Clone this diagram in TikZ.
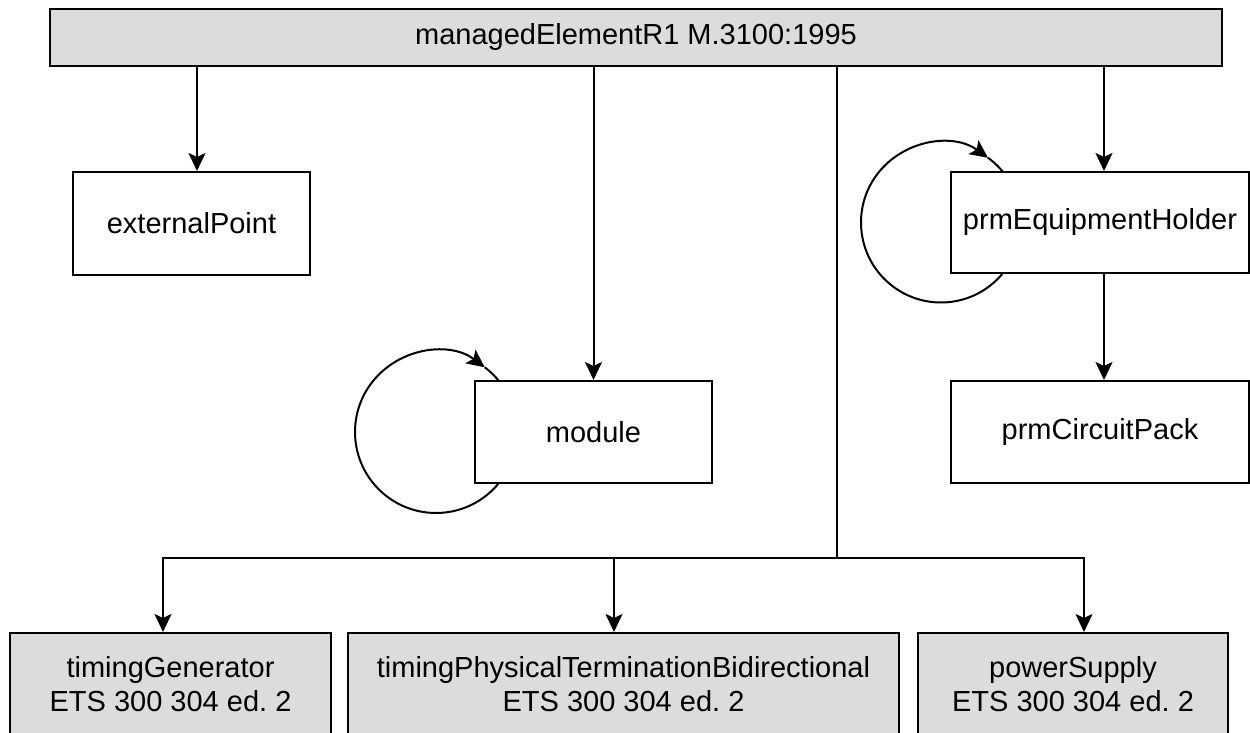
\documentclass[tikz,border=0pt]{standalone}
\usepackage{fontspec}
\setmainfont{Liberation Sans}
\usetikzlibrary{arrows.meta}
\usetikzlibrary{backgrounds}
\usetikzlibrary{calc}
\definecolor{boxgray}{RGB}{220,220,220}
\frenchspacing
\begin{document}
\begin{tikzpicture}[x=0.5pt, y=-0.5pt, line width=1pt, >={Stealth[length=9pt,width=8.5pt,inset=2pt]}]

		\tikzstyle{box}  = [draw, fill=white, align=center, inner sep=0pt, font=\fontsize{14.5}{17}\selectfont]
		\tikzstyle{gbox} = [box, fill=boxgray]
		\tikzstyle{loop} = [draw, line width=1pt]
		\useasboundingbox (0,0) rectangle (1250,733);

		\node [gbox, minimum width=586pt, minimum height=28.5pt](top) at (636, 37.5) {managedElementR1 M.3100:1995};
		\node [box, minimum width=118.5pt, minimum height=51.5pt](ext) at (191.5, 223.5) {externalPoint};
		\node [box, minimum width=118.5pt, minimum height=51pt](module) at (593.5, 432) {module};
		\node [box, minimum width=149pt, minimum height=50.5pt](holder) at (1100, 222.5) {prmEquipmentHolder};
		\node [box, minimum width=149pt, minimum height=51pt](pack) at (1100, 432) {prmCircuitPack};
		\node [gbox, minimum width=160.5pt, minimum height=51pt](tgen) at (170.5, 684) {timingGenerator\\ETS 300 304 ed. 2};
		\node [gbox, minimum width=275.5pt, minimum height=51pt](tptb) at (623.5, 684) {timingPhysicalTerminationBidirectional\\ETS 300 304 ed. 2};
		\node [gbox, minimum width=155pt, minimum height=51pt](psup) at (1073, 684) {powerSupply\\ETS 300 304 ed. 2};

		%%Containment arrows from the managed element
		\draw[->] ([xshift=2.75pt]top.south -| ext.north) -- ([xshift=2.75pt]ext.north);
		\draw[->] (top.south -| module.north) -- (module.north);
		\draw[->] ([xshift=2pt]top.south -| holder.north) -- ([xshift=2pt]holder.north);
		\draw[->] ([xshift=2pt]holder.south) -- ([xshift=2pt]pack.north);

		%%Bus to the ETS classes
		\coordinate (bus) at (837, 558);
		\draw (top.south -| bus) -- (bus);
		\draw[->] (bus) -| ([xshift=-3.75pt]tgen.north);
		\draw[->] (bus) -| ([xshift=-4.75pt]tptb.north);
		\draw[->] (bus) -| ([xshift=5.5pt]psup.north);

		%%Self loops
		\begin{scope}[on background layer]
		\path[loop, ->] ($(module.west)+(-19pt,0)$) ++(-40:40.5pt) arc[start angle=-40, end angle=-307, radius=40.5pt];
		\path[loop] ($(module.west)+(-19pt,0)$) ++(53:40.5pt) arc[start angle=53, end angle=30, radius=40.5pt];
		\path[loop, ->] ($(holder.west)+(-4.5pt,0)$) ++(-40:40pt) arc[start angle=-40, end angle=-306, radius=40pt];
		\path[loop] ($(holder.west)+(-4.5pt,0)$) ++(54:40pt) arc[start angle=54, end angle=30, radius=40pt];
		\end{scope}
	\end{tikzpicture}
\end{document}
